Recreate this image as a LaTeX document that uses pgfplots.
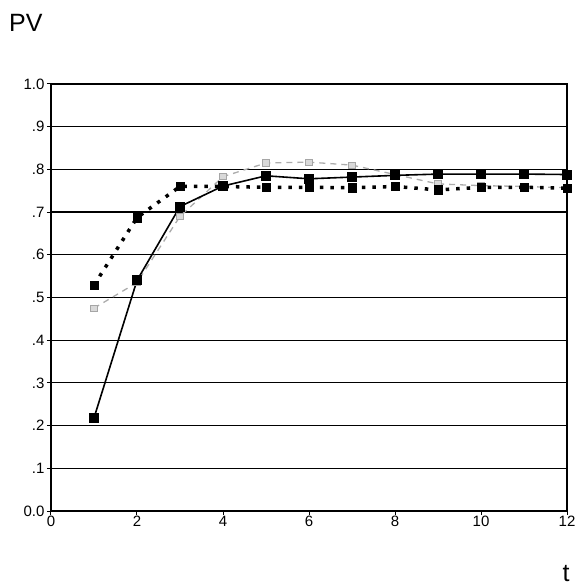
\documentclass[border=0pt]{standalone}
\usepackage{fontspec}
\setmainfont{Liberation Sans}
\usepackage{pgfplots}
\pgfplotsset{compat=1.18}
\begin{document}
\begin{tikzpicture}[x=1bp,y=1bp]
\path (-51bp,-74bp) rectangle (527bp,511bp);
\begin{axis}[
  at={(0,0)}, anchor=south west,
  scale only axis, width=516bp, height=427bp,
  xmin=0, xmax=12, ymin=0, ymax=1,
  xtick={0,2,4,6,8,10,12},
  xticklabels={\mbox{0},\mbox{2},\mbox{4},\mbox{6},\mbox{8},\mbox{10},\mbox{12}},
  ytick={0,0.1,0.2,0.3,0.4,0.5,0.6,0.7,0.8,0.9,1},
  yticklabels={\mbox{0.0},\mbox{.1},\mbox{.2},\mbox{.3},\mbox{.4},\mbox{.5},\mbox{.6},\mbox{.7},\mbox{.8},\mbox{.9},\mbox{1.0}},
  tick align=outside, major tick length=4bp,
  xtick pos=bottom, ytick pos=left,
  ymajorgrids, grid style={black, line width=1.2bp},
  axis line style={black, line width=1.4bp},
  tick style={black, line width=1bp},
  ticklabel style={font=\fontsize{15bp}{17bp}\selectfont},
  yticklabel style={xshift=1bp},
  xticklabel style={yshift=2bp},
  clip=false,
]
\addplot[gray!65, line width=1.3bp, dash pattern=on 6bp off 5bp, mark=square*, mark size=3.2bp,
  mark options={solid, fill=gray!30, draw=gray!70, line width=0.8bp}]
  coordinates {(1,0.475)(2,0.535)(3,0.69)(4,0.783)(5,0.815)(6,0.817)(7,0.81)(8,0.788)(9,0.766)(10,0.762)(11,0.76)(12,0.757)};
\addplot[black, line width=1.6bp, mark=square*, mark size=4.2bp, mark options={solid, fill=black}]
  coordinates {(1,0.218)(2,0.54)(3,0.713)(4,0.761)(5,0.785)(6,0.778)(7,0.782)(8,0.786)(9,0.789)(10,0.789)(11,0.789)(12,0.788)};
\addplot[black, line width=3.5bp, dash pattern=on 3.5bp off 7bp, mark=square*, mark size=4.2bp,
  mark options={solid, fill=black, line width=0.5bp}]
  coordinates {(1,0.529)(2,0.687)(3,0.76)(4,0.76)(5,0.758)(6,0.758)(7,0.757)(8,0.76)(9,0.752)(10,0.758)(11,0.758)(12,0.756)};
\end{axis}
\node[anchor=base west, inner sep=0pt, font=\fontsize{25bp}{27bp}\selectfont] at (-42bp,479bp) {PV};
\node[anchor=base, inner sep=0pt, font=\fontsize{25bp}{27bp}\selectfont] at (515bp,-70bp) {t};
\end{tikzpicture}
\end{document}
